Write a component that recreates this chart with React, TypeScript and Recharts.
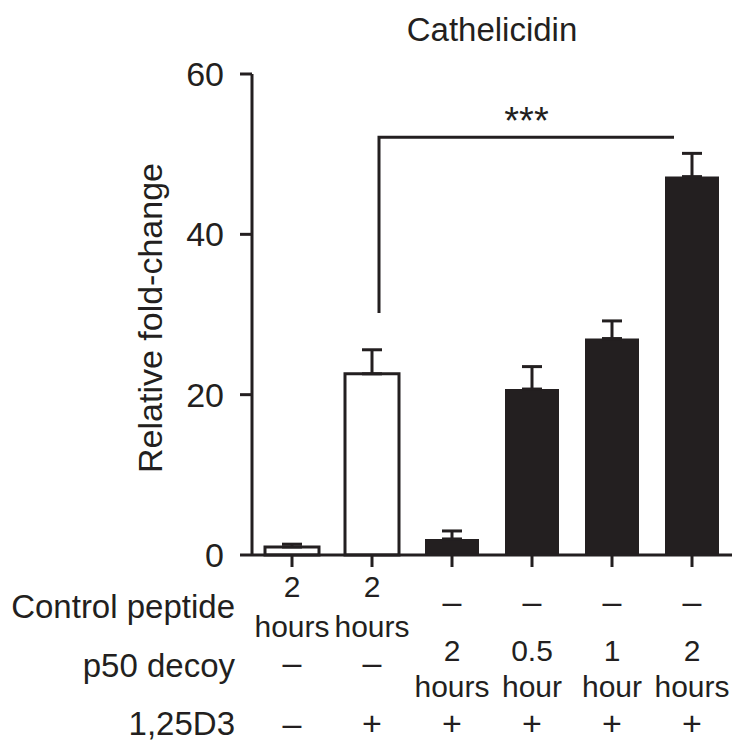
import React from 'react';
import { BarChart, Bar, XAxis, YAxis, ErrorBar, Cell, ReferenceLine } from 'recharts';

const groups = ['ctrl-2h', 'ctrl-2h-D3', 'p50-2h', 'p50-0.5h', 'p50-1h', 'p50-2h-b'];
const foldChange = [1.0, 22.6, 2.0, 20.7, 27.0, 47.2];
const sem = [0.35, 3.0, 1.0, 2.8, 2.2, 2.9];
const filled = [false, false, true, true, true, true];
const controlPeptide = [['2', 'hours'], ['2', 'hours'], ['–'], ['–'], ['–'], ['–']];
const p50Decoy = [['–'], ['–'], ['2', 'hours'], ['0.5', 'hour'], ['1', 'hour'], ['2', 'hours']];
const vitD3 = ['–', '+', '+', '+', '+', '+'];
const rowLabels = ['Control peptide', 'p50 decoy', '1,25D3'];
const yTicks = [0, 20, 40, 60];
const sigLabel = '***';
const sigRange = [1, 5];
const sigLevels = [30.2, 52.1];

const INK = '#231f20';
const FONT = '"Liberation Sans", Arial, Helvetica, sans-serif';

const data = groups.map((g, i) => ({
  name: g,
  value: foldChange[i],
  err: [0, sem[i]],
}));

const XTick = (props: any) => {
  const { x, y, payload } = props;
  const i = groups.indexOf(payload.value);
  if (i < 0) return null;
  const fs = 30;
  const signFs = 34;
  const cell = (lines: string[], twoLineY: number[], singleY: number, key: string) =>
    lines.length === 2 ? (
      <g key={key}>
        <text x={x} y={y + twoLineY[0]} textAnchor="middle" fontSize={fs} fill={INK}>{lines[0]}</text>
        <text x={x} y={y + twoLineY[1]} textAnchor="middle" fontSize={fs} fill={INK}>{lines[1]}</text>
      </g>
    ) : (
      <text key={key} x={x} y={y + singleY} textAnchor="middle" fontSize={signFs} fill={INK}>{lines[0]}</text>
    );
  return (
    <g>
      {cell(controlPeptide[i], [30, 70], 46, 'r1')}
      {cell(p50Decoy[i], [94, 130], 107, 'r2')}
      <text x={x} y={y + 168} textAnchor="middle" fontSize={signFs} fill={INK}>{vitD3[i]}</text>
    </g>
  );
};

const Bracket = (props: any) => {
  const { x1, y1, x2, y2 } = props;
  const left = x1 + 7;
  const right = x2 - 18;
  return (
    <g>
      <path d={`M${left},${y1} L${left},${y2} L${right},${y2}`} fill="none" stroke={INK} strokeWidth={3} />
      <text x={(left + right) / 2} y={y2 - 3} textAnchor="middle" fontSize={38} fill={INK}>{sigLabel}</text>
    </g>
  );
};

export default function App() {
  return (
    <div style={{ position: 'absolute', left: 0, top: 0, width: 752, height: 744, background: '#fff', fontFamily: FONT }}>
      <BarChart
        width={752}
        height={744}
        data={data}
        margin={{ top: 74, right: 20, bottom: 0, left: 0 }}
        barSize={54}
      >
        <text x={492} y={41} textAnchor="middle" fontSize={33} fill={INK}>Cathelicidin</text>
        <text
          x={162}
          y={318}
          textAnchor="middle"
          fontSize={34}
          fill={INK}
          transform="rotate(-90 162 318)"
        >
          Relative fold-change
        </text>
        <text x={235} y={618} textAnchor="end" fontSize={33} fill={INK}>{rowLabels[0]}</text>
        <text x={235} y={677} textAnchor="end" fontSize={33} fill={INK}>{rowLabels[1]}</text>
        <text x={235} y={735} textAnchor="end" fontSize={33} fill={INK}>{rowLabels[2]}</text>
        <XAxis
          dataKey="name"
          height={189}
          tickSize={12}
          tickMargin={0}
          axisLine={{ stroke: INK, strokeWidth: 3 }}
          tickLine={{ stroke: INK, strokeWidth: 3 }}
          tick={<XTick />}
          interval={0}
        />
        <YAxis
          width={252}
          domain={[0, 60]}
          ticks={yTicks}
          tickSize={12}
          tickMargin={16}
          axisLine={{ stroke: INK, strokeWidth: 3 }}
          tickLine={{ stroke: INK, strokeWidth: 3 }}
          tick={{ fontSize: 34, fill: INK }}
        />
        <ReferenceLine
          segment={[
            { x: groups[sigRange[0]], y: sigLevels[0] },
            { x: groups[sigRange[1]], y: sigLevels[1] },
          ]}
          shape={<Bracket />}
          ifOverflow="visible"
        />
        <Bar dataKey="value" isAnimationActive={false} strokeWidth={3}>
          {data.map((d, i) => (
            <Cell key={d.name} fill={filled[i] ? INK : '#ffffff'} stroke={INK} strokeWidth={filled[i] ? 0 : 3} />
          ))}
          <ErrorBar dataKey="err" direction="y" width={10} stroke={INK} strokeWidth={3} isAnimationActive={false} />
        </Bar>
      </BarChart>
    </div>
  );
}
